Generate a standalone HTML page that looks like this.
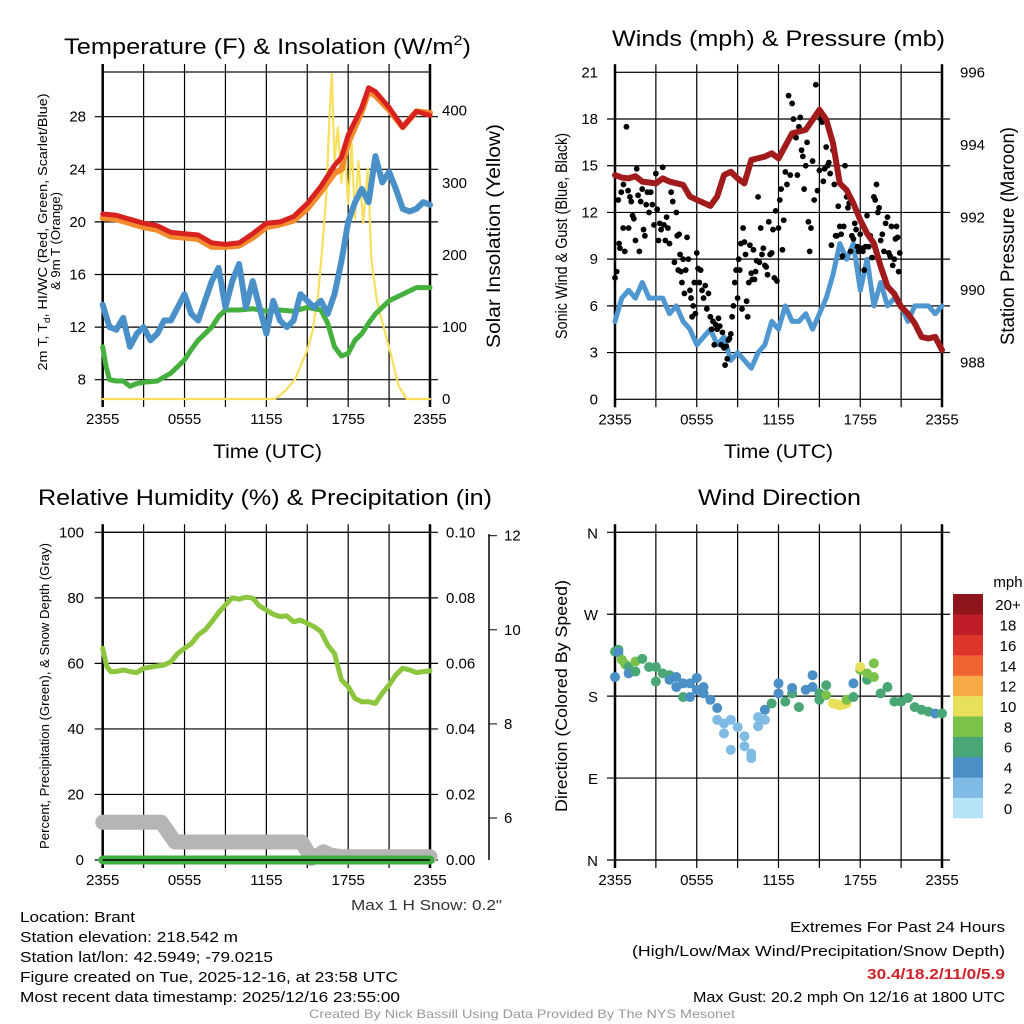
<!DOCTYPE html>
<html><head><meta charset="utf-8"><style>
html,body{margin:0;padding:0;background:#fff;}
svg{display:block;font-family:"Liberation Sans",Arial,sans-serif;}
</style></head><body>
<svg id="chart" width="1024" height="1024" viewBox="0 0 1024 1024" xmlns="http://www.w3.org/2000/svg">
<g id="p1"></g>
<g id="p2"></g>
<g id="p3"></g>
<g id="p4"></g>
<g id="txt">
<text x="64" y="54" font-size="22" textLength="407" lengthAdjust="spacingAndGlyphs">Temperature (F) &amp; Insolation (W/m<tspan font-size="14" dy="-9">2</tspan><tspan dy="9">)</tspan></text>
<text x="612" y="46" font-size="22" textLength="333" lengthAdjust="spacingAndGlyphs">Winds (mph) &amp; Pressure (mb)</text>
<text x="38" y="505" font-size="22" textLength="454" lengthAdjust="spacingAndGlyphs">Relative Humidity (%) &amp; Precipitation (in)</text>
<text x="698" y="505" font-size="22" textLength="163" lengthAdjust="spacingAndGlyphs">Wind Direction</text>
<text x="213" y="458" font-size="19" textLength="109" lengthAdjust="spacingAndGlyphs">Time (UTC)</text>
<text x="724" y="458" font-size="19" textLength="109" lengthAdjust="spacingAndGlyphs">Time (UTC)</text>
<text transform="translate(47,232) rotate(-90)" text-anchor="middle" font-size="13" textLength="277" lengthAdjust="spacingAndGlyphs">2m T, T<tspan font-size="9" dy="3">d</tspan><tspan dy="-3">, HI/WC (Red, Green, Scarlet/Blue)</tspan></text>
<text transform="translate(60,241) rotate(-90)" text-anchor="middle" font-size="13" textLength="98" lengthAdjust="spacingAndGlyphs">&amp; 9m T (Orange)</text>
<text transform="translate(500,236) rotate(-90)" text-anchor="middle" font-size="19" textLength="224" lengthAdjust="spacingAndGlyphs">Solar Insolation (Yellow)</text>
<text transform="translate(567,236) rotate(-90)" text-anchor="middle" font-size="17" textLength="206" lengthAdjust="spacingAndGlyphs">Sonic Wind &amp; Gust (Blue, Black)</text>
<text transform="translate(1014,236) rotate(-90)" text-anchor="middle" font-size="19" textLength="218" lengthAdjust="spacingAndGlyphs">Station Pressure (Maroon)</text>
<text transform="translate(49,696) rotate(-90)" text-anchor="middle" font-size="13" textLength="306" lengthAdjust="spacingAndGlyphs">Percent, Precipitation (Green), &amp; Snow Depth (Gray)</text>
<text transform="translate(567,696) rotate(-90)" text-anchor="middle" font-size="17" textLength="232" lengthAdjust="spacingAndGlyphs">Direction (Colored By Speed)</text>
<text x="351" y="910" font-size="15" fill="#333" textLength="151" lengthAdjust="spacingAndGlyphs">Max 1 H Snow: 0.2"</text>
<text x="20" y="922" font-size="15" textLength="115" lengthAdjust="spacingAndGlyphs">Location: Brant</text>
<text x="20" y="942" font-size="15" textLength="218" lengthAdjust="spacingAndGlyphs">Station elevation: 218.542 m</text>
<text x="20" y="962" font-size="15" textLength="253" lengthAdjust="spacingAndGlyphs">Station lat/lon: 42.5949; -79.0215</text>
<text x="20" y="982" font-size="15" textLength="378" lengthAdjust="spacingAndGlyphs">Figure created on Tue, 2025-12-16, at 23:58 UTC</text>
<text x="20" y="1002" font-size="15" textLength="380" lengthAdjust="spacingAndGlyphs">Most recent data timestamp: 2025/12/16 23:55:00</text>
<text x="790" y="932" font-size="15" textLength="215" lengthAdjust="spacingAndGlyphs">Extremes For Past 24 Hours</text>
<text x="632" y="956" font-size="15" textLength="373" lengthAdjust="spacingAndGlyphs">(High/Low/Max Wind/Precipitation/Snow Depth)</text>
<text x="867" y="979" font-size="15" font-weight="bold" fill="#d0222a" textLength="138" lengthAdjust="spacingAndGlyphs">30.4/18.2/11/0/5.9</text>
<text x="693" y="1002" font-size="15" textLength="312" lengthAdjust="spacingAndGlyphs">Max Gust: 20.2 mph On 12/16 at 1800 UTC</text>
<text x="309" y="1018" font-size="12" fill="#999" textLength="426" lengthAdjust="spacingAndGlyphs">Created By Nick Bassill Using Data Provided By The NYS Mesonet</text>
</g>
</svg>
<script>
// ---- data (hours after 2355 UTC) ----
const xTickLabels = ["2355","0555","1155","1755","2355"];
const tempHours = [0,1,2,3,4,5,6,7,8,9,10,11,12,13,14,15,16,17,17.5,18,19,19.5,20,21,22,23,24];
const tempRed = [20.6,20.5,20.2,19.9,19.7,19.2,19.1,19.0,18.4,18.3,18.4,19.1,19.9,20.0,20.4,21.4,22.7,24.3,24.9,26.6,28.7,30.2,29.9,28.7,27.2,28.4,28.1];
const tempOrange = [20.3,20.2,19.9,19.6,19.4,18.9,18.8,18.7,18.1,18.1,18.2,18.8,19.6,19.8,20.1,21.0,22.3,23.7,24.0,26.0,28.4,29.9,29.6,28.5,27.2,28.4,28.3];
const blueHours = [0,0.5,1,1.5,2,2.5,3,3.5,4,4.5,5,5.5,6,6.5,7,7.5,8,8.5,9,9.5,10,10.5,11,11.5,12,12.5,13,13.5,14,14.5,15,15.5,16,16.5,17,17.5,18,18.5,19,19.5,20,20.5,21,21.5,22,22.5,23,23.5,24];
const blueVals = [13.7,12.0,11.8,12.7,10.5,11.5,12.0,11.0,11.5,12.5,12.5,13.5,14.5,13.0,12.5,14.0,15.5,16.5,13.5,15.5,16.8,13.5,15.5,13.5,11.5,14.0,12.5,12.0,12.5,14.5,14.0,13.5,14.0,13.0,14.5,17.0,20.0,21.5,22.5,21.5,25.0,23.0,23.8,22.5,21.0,20.8,21.0,21.5,21.3];
const greenHours = [0,0.25,0.5,1,1.5,2,2.5,3,4,5,5.5,6,6.5,7,7.5,8,8.5,9,10,11,12,13,14,15,16,16.5,17,17.5,18,18.5,19,19.5,20,21,22,23,24];
const greenVals = [10.5,9.0,8.0,7.9,7.9,7.5,7.7,7.8,7.9,8.5,9.0,9.5,10.3,11.0,11.5,12.0,12.8,13.3,13.3,13.4,13.2,13.3,13.2,13.5,13.3,12.3,10.5,9.8,10.0,11.0,11.5,12.3,13.0,14.0,14.5,15.0,15.0];
const solarHours = [0,12.6,13,13.5,14.1,14.5,15,15.4,15.8,16.1,16.4,16.6,16.8,17,17.25,17.5,17.75,18,18.25,18.5,18.75,19.1,19.45,19.7,20.1,20.6,21.1,21.7,22.3,24];
const solarVals = [0,0,5,14,27,45,68,95,147,210,285,380,451,331,377,300,345,271,355,250,330,244,320,193,137,100,64,18,0,0];
const windHours = blueHours;
const windVals = [5,6.5,7,6.5,7.5,6.5,6.5,6.5,5.5,6,5,4.5,3.5,4,4.5,3.5,4,2.5,3,2.5,2,3,3.5,5,4.5,6,5,5,5.5,4.5,5.5,6.5,8,10,9,10,7,9,6,7.5,6,6.5,6,5,6,6,6,5.5,6];
const presHours = [0,0.5,1,1.5,2,3,3.5,4,5,5.5,6,7,7.5,8,8.5,9,9.5,10,11,11.5,12,13,14,15,15.5,16,16.5,17,17.5,18,18.5,19,19.5,20,20.5,21,21.5,22,22.5,23,23.5,24];
const presVals = [993.17,993.1,993.08,993.14,992.99,992.94,993.08,992.99,992.9,992.58,992.49,992.32,992.58,993.17,993.26,993.08,992.94,993.59,993.68,993.77,993.63,994.32,994.42,994.97,994.7,994.05,992.94,992.76,992.39,991.93,991.56,991.29,990.65,990.1,989.9,989.54,989.35,989.08,988.71,988.67,988.71,988.35];
const gustStart = [0,0.3,0.6,1,1.5,2,2.5,3,3.5,4,4.5,5,5.5,6,6.5,7,7.5,8,8.5,9,9.5,10,10.5,11,11.5,12,12.5,13,13.5,14,14.5,15,15.5,16,16.5,17,17.5,18,18.5,19,19.5,20,20.5];
const gustVals = [[7.8,8.2,12.8,9.7],[10,13.3,13.8],[11,9.5,17.5,13.4],[11,13,12.7,11.8,11.6],[10.2,14.8,13.1,9.5,12.7],[13.5,10.9,10.5,12.5,13.3],[12,13.3,12.5,11.2],[14.5,12.2,10.2,11.3,10.9],[14.9,11.2,10.2,11.7,11],[10,13.3,12.7,8.8],[12,10.5,8.3,10.6,9.3,8.2,7.5],[9,6.8,8.3,10.4,9],[7,6.5,5.3,6,7.5,5.5],[9.4,8.4,7.5,8.3,7],[6.5,7.3,5.8,6.8],[5.3,4.5,5,3.5,4.8],[4.5,5.2,4.7,3.5,4.3],[3.3,2.2,3.4,2.6,3.8,3.9],[4.2,5.3,6,7.5,8.3],[6.5,9,8.3,10,5.8,11],[10.1,9.3,6.3,5.3,7.5,9.9],[8.1,7.7,9.6,7.7,8.2,8.9],[13,8.8,11,9.3,9.7],[8.6,8.5,8,11.4,9.3],[9.4,10.9,7.8,12.1,7.6],[11,12.8,13.5,9.6,11.5],[14.6,13.8,19.5,14.4],[19,18,17,16.8,14.4],[17.5,18.1,16,15.6,13.5],[15,16.5,11.4,9.5,11],[15.3,12.8,20.2,13.4],[14.7,18,17.8,14,14.8],[16.2,15,15.2,14.5,9.9],[16,13.8,10.5,10.5,12.4],[11.1,10.6,9.2,11.1,15],[13,12.3,12.6,9.5,10.5],[10.3,11.3,10.9,9.8,9.5],[10.6,9.7,9.5,8.3,9.8],[11.8,9.8,10.5,9.1],[13,12.8,13.8,12,12.3],[10.2,10.6,9.5,11.3],[11.7,9.4,9.2,11.1,8.6],[9,10.3,11.1,10.4,8.2,9.4]];
const rhHours = [0,0.3,0.6,1,1.5,2,2.5,3,4,4.5,5,5.5,6,6.5,7,7.5,8,8.5,9,9.5,10,10.5,11,11.5,12,12.5,13,13.5,14,14.5,15,15.5,16,16.5,17,17.5,18,18.5,19,19.5,20,20.5,21,21.5,22,22.5,23,23.5,24];
const rhVals = [64.6,59,57.5,57.5,58,57.5,57.2,58.5,59.2,59.5,60.5,63,64.6,66,68.7,70.2,72.7,75.5,77.8,80,79.6,80.2,79.9,77.5,76.3,75,74.3,74.5,72.7,73.2,72.2,71.2,69.7,65.6,63,55,52.9,49.3,48.3,48.3,47.8,50.9,53.4,56.5,58.5,58,57.2,57.5,57.7];
const snowHours = [0,4.3,5.3,14.6,15.3,15.8,16.2,16.7,17.5,24];
const snowVals = [11.5,11.5,5.5,5.5,0.5,1.5,2.5,1.5,1,1];
const precipHours = [0,24];
const precipVals = [0,0];
const dirHours = [0,0,0.25,0.25,0.5,0.75,1,1,1.5,1.5,2,2.5,3,3,3.5,4,4,4.5,4.5,5,5,5.5,5.5,6,6,6.5,6.5,7,7.5,7.5,8,8,8.5,8.5,9,9.5,9.5,10,10,10.5,10.5,11,11,11.5,12,12,12.5,13,13,13.5,14,14.5,14.5,15,15,15.5,15.5,16,16.3,16.5,16.8,17,17,17.5,17.5,18,18,18.5,18.5,19,19,19.5,20,20.5,21,21.5,22,22.5,23,23.5,24];
const dirVals = [201,229,231,228,220,215,212,205,218,207,221,212,212,196,205,203,198,201,190,194,179,194,179,187,200,190,183,176,167,154,150,139,154,121,146,136,125,117,112,147,157,165,154,172,183,194,174,183,189,168,187,190,203,183,176,192,181,172,171,170,171,172,176,179,194,209,212,198,205,201,216,183,190,174,174,178,168,165,163,161,161];
const dirSpeed = [5,7,7,5,9,9,7,5,9,7,7,7,7,7,7,7,5,5,5,5,7,5,5,5,5,5,5,5,5,3,3,3,3,3,3,3,3,3,3,3,3,5,3,7,5,5,7,7,5,7,5,5,5,7,7,7,9,11,11,11,11,11,9,7,5,9,11,7,9,9,9,7,7,7,7,7,7,7,7,5,7];
const speedBins = ["0","2","4","6","8","10","12","14","16","18","20+"];
const speedColors = ["#b5e3f8","#7fbbe4","#4a8fc6","#48a775","#7bc24b","#e8e05a","#f6aa47","#ef6330","#de352a","#bf1d27","#8e161b"];

// ---- helpers ----
const NS = "http://www.w3.org/2000/svg";
function mk(parent, tag, attrs) {
  const e = document.createElementNS(NS, tag);
  for (const k in attrs) e.setAttribute(k, attrs[k]);
  parent.appendChild(e);
  return e;
}
function linScale(d0, d1, r0, r1) { return v => r0 + (v - d0) * (r1 - r0) / (d1 - d0); }
function pathD(xs, ys, fx, fy) { return xs.map((h, i) => (i ? "L" : "M") + fx(h).toFixed(1) + "," + fy(ys[i]).toFixed(1)).join(""); }
function frame(g, L, R, T, B, hLines, fy) {
  const fx = linScale(0, 24, L, R);
  for (let i = 0; i <= 8; i++) {
    const x = fx(i * 3);
    const gl = mk(g, "line", {x1: x, x2: x, y1: T - 8, y2: B + 8, stroke: "#000", "stroke-width": 1.2});
    
    
  }
  hLines.forEach(v => {
    const y = fy(v);
    const gl = mk(g, "line", {x1: L - 8, x2: R + 8, y1: y, y2: y, stroke: "#000", "stroke-width": 1.2});
    
    
  });
  const fr = mk(g, "rect", {x: L, y: T, width: R - L, height: B - T, fill: "none", stroke: "#000", "stroke-width": 1.2});
  
  
  for (const X of [L, R]) mk(g, "line", {x1: X, x2: X, y1: T - 8, y2: B + 8, stroke: "#000", "stroke-width": 2.5});
  xTickLabels.forEach((t, i) => {
    const tx = mk(g, "text", {x: fx(i * 6), y: B + 25, "font-size": 15, "text-anchor": "middle"});
    tx.textContent = t;
    
    
  });
  return fx;
}
function yLabels(g, vals, fy, x, anchor, fmt) {
  vals.forEach(v => {
    const t = mk(g, "text", {x: x, y: fy(v) + 5, "font-size": 15, "text-anchor": anchor});
    t.textContent = fmt ? fmt(v) : v;
    
    
  });
}
function series(g, xs, ys, fx, fy, color, w, name) {
  const p = mk(g, "path", {d: pathD(xs, ys, fx, fy), fill: "none", stroke: color, "stroke-width": w, "stroke-linejoin": "round", "stroke-linecap": "round"});
  
  
  return p;
}

// ---- panel 1 ----
(function () {
  const g = document.getElementById("p1");
  const L = 102.7, R = 430, T = 72, B = 399;
  const fy = linScale(8, 28, 379.7, 116.7);
  const fs = linScale(0, 400, 399, 110.7);
  const fx = frame(g, L, R, T, B, [8, 12, 16, 20, 24, 28], fy);
  yLabels(g, [8, 12, 16, 20, 24, 28], fy, 86, "end");
  yLabels(g, [0, 100, 200, 300, 400], fs, 442, "start");
  series(g, solarHours, solarVals, fx, fs, "#f8e05c", 2.2, "solar-insolation-line");
  series(g, greenHours, greenVals, fx, fy, "#46b03e", 5, "dewpoint-line");
  series(g, blueHours, blueVals, fx, fy, "#4a90c8", 6, "windchill-line");
  series(g, tempHours, tempOrange, fx, fy, "#f38b2e", 6, "temp-9m-line");
  series(g, tempHours, tempRed, fx, fy, "#d8221f", 5, "temp-2m-line");
})();

// ---- panel 2 ----
(function () {
  const g = document.getElementById("p2");
  const L = 615, R = 942, T = 72.3, B = 399.3;
  const fy = linScale(0, 21, 399.3, 72.3);
  const fp = linScale(988, 996, 362.7, 72.4);
  const fx = frame(g, L, R, T, B, [3, 6, 9, 12, 15, 18], fy);
  yLabels(g, [0, 3, 6, 9, 12, 15, 18, 21], fy, 598, "end");
  yLabels(g, [988, 990, 992, 994, 996], fp, 960, "start");
  series(g, windHours, windVals, fx, fy, "#4f97d0", 5, "sonic-wind-line");
  gustStart.forEach((h, gi) => {
    const n = gustVals[gi].length;
    gustVals[gi].forEach((v, i) => {
      const c = mk(g, "circle", {cx: fx(h + i * 0.48 / n), cy: fy(v), r: 2.9, fill: "#000"});
      
      
    });
  });
  series(g, presHours, presVals, fx, fp, "#a11a1c", 6, "pressure-line");
})();

// ---- panel 3 ----
(function () {
  const g = document.getElementById("p3");
  const L = 102.7, R = 430, T = 532.3, B = 860;
  const fy = linScale(0, 100, 860, 532.3);
  const fsn = linScale(6, 12, 818, 535.7);
  const fx = frame(g, L, R, T, B, [0, 20, 40, 60, 80, 100], fy);
  yLabels(g, [0, 20, 40, 60, 80, 100], fy, 84, "end");
  yLabels(g, [0, 20, 40, 60, 80, 100], fy, 446, "start", v => (v / 1000).toFixed(2));
  const ax = mk(g, "line", {x1: 489, x2: 489, y1: 534, y2: 860, stroke: "#000", "stroke-width": 1.5});
  
  
  [6, 8, 10, 12].forEach(v => {
    mk(g, "line", {x1: 489, x2: 497, y1: fsn(v), y2: fsn(v), stroke: "#000"});
  });
  yLabels(g, [6, 8, 10, 12], fsn, 504, "start");
  series(g, snowHours, snowVals, fx, fy, "#b5b5b5", 15, "snow-depth-line");
  series(g, rhHours, rhVals, fx, fy, "#8cc63f", 5, "humidity-line");
  series(g, precipHours, precipVals, fx, fy, "#3fae3f", 9, "precip-line");
  mk(g, "line", {x1: L, x2: R, y1: B, y2: B, stroke: "#000", "stroke-width": 1.5});
})();

// ---- panel 4 ----
(function () {
  const g = document.getElementById("p4");
  const L = 615, R = 942, T = 532.3, B = 860;
  const fy = linScale(0, 360, 860, 532.3);
  const fx = frame(g, L, R, T, B, [0, 90, 180, 270, 360], fy);
  const dirLabels = ["N", "E", "S", "W", "N"];
  dirLabels.forEach((t, i) => {
    const tx = mk(g, "text", {x: 598, y: fy(i * 90) + 6, "font-size": 15, "text-anchor": "end"});
    tx.textContent = t;
    
    
  });
  dirHours.forEach((h, i) => {
    const bin = Math.min(10, Math.floor(dirSpeed[i] / 2));
    const c = mk(g, "circle", {cx: fx(h), cy: fy(dirVals[i]), r: 5, fill: speedColors[bin]});
    
    
  });
  const cb = mk(g, "g", {});
  
  
  const h = (818 - 594) / speedBins.length;
  speedBins.forEach((lab, i) => {
    const y = 818 - (i + 1) * h;
    const r = mk(cb, "rect", {x: 953, y: y, width: 30, height: h + 0.3, fill: speedColors[i]});
    
    
    const t = mk(cb, "text", {x: 1008, y: y + h / 2 + 6, "font-size": 15, "text-anchor": "middle"});
    t.textContent = lab;
    
    
  });
  const m = mk(cb, "text", {x: 1008, y: 587, "font-size": 15, "text-anchor": "middle"});
  m.textContent = "mph";
  
  
})();
</script>
</body></html>
